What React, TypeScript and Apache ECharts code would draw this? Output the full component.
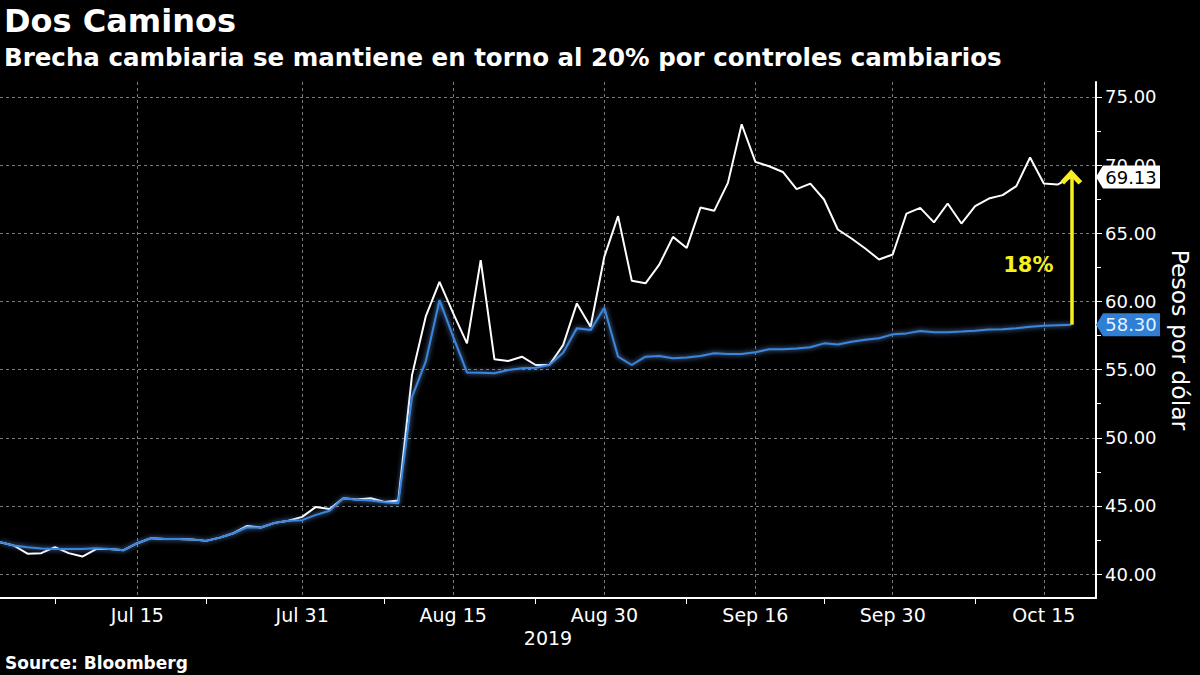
import React, { useEffect, useRef } from 'react';
import * as echarts from 'echarts';

// Business days (trading days) shown on the x axis
const dates = [
  '2019-07-01', '2019-07-02', '2019-07-03', '2019-07-04', '2019-07-05', '2019-07-08', '2019-07-09', '2019-07-10',
  '2019-07-11', '2019-07-12', '2019-07-15', '2019-07-16', '2019-07-17', '2019-07-18', '2019-07-19', '2019-07-22',
  '2019-07-23', '2019-07-24', '2019-07-25', '2019-07-26', '2019-07-29', '2019-07-30', '2019-07-31',
  '2019-08-01', '2019-08-02', '2019-08-05', '2019-08-06', '2019-08-07', '2019-08-08', '2019-08-09', '2019-08-12',
  '2019-08-13', '2019-08-14', '2019-08-15', '2019-08-16', '2019-08-19', '2019-08-20', '2019-08-21', '2019-08-22',
  '2019-08-23', '2019-08-26', '2019-08-27', '2019-08-28', '2019-08-29', '2019-08-30',
  '2019-09-02', '2019-09-03', '2019-09-04', '2019-09-05', '2019-09-06', '2019-09-09', '2019-09-10', '2019-09-11',
  '2019-09-12', '2019-09-13', '2019-09-16', '2019-09-17', '2019-09-18', '2019-09-19', '2019-09-20', '2019-09-23',
  '2019-09-24', '2019-09-25', '2019-09-26', '2019-09-27', '2019-09-30',
  '2019-10-01', '2019-10-02', '2019-10-03', '2019-10-04', '2019-10-07', '2019-10-08', '2019-10-09', '2019-10-10',
  '2019-10-11', '2019-10-14', '2019-10-15', '2019-10-16', '2019-10-17',
];

// White line: implied (parallel) rate
const parallelRate = [
  42.35, 42.1, 41.5, 41.54, 41.98, 41.54, 41.29, 41.84, 41.84, 41.76,
  42.27, 42.64, 42.58, 42.57, 42.55, 42.44, 42.68, 43.0, 43.54, 43.42,
  43.76, 43.92, 44.2, 44.93, 44.78, 45.57, 45.48, 45.57, 45.3, 45.4,
  54.6, 58.9, 61.44, 59.13, 56.93, 63.03, 55.76, 55.63, 55.95, 55.34,
  55.34, 56.8, 59.86, 58.15, 63.28, 66.26, 61.52, 61.33, 62.7, 64.74,
  63.93, 66.89, 66.65, 68.7, 73.0, 70.24, 69.92, 69.5, 68.24, 68.65,
  67.48, 65.28, 64.62, 63.89, 63.08, 63.45, 66.45, 66.87, 65.8, 67.19,
  65.72, 66.99, 67.55, 67.8, 68.46, 70.56, 68.65, 68.58, 69.13,
];

// Blue line: official rate
const officialRate = [
  42.35, 42.1, 41.98, 41.88, 41.85, 41.84, 41.84, 41.9, 41.84, 41.76,
  42.27, 42.64, 42.58, 42.57, 42.55, 42.44, 42.68, 43.0, 43.44, 43.42,
  43.76, 43.92, 43.96, 44.35, 44.65, 45.57, 45.45, 45.4, 45.28, 45.2,
  53.0, 55.6, 60.1, 57.4, 54.8, 54.78, 54.73, 54.97, 55.1, 55.14,
  55.34, 56.24, 58.03, 57.9, 59.54, 55.95, 55.34, 55.95, 56.0, 55.83,
  55.9, 56.0, 56.2, 56.15, 56.15, 56.27, 56.49, 56.5, 56.56, 56.64,
  56.93, 56.85, 57.05, 57.2, 57.3, 57.59, 57.66, 57.83, 57.75, 57.75,
  57.8, 57.86, 57.95, 57.97, 58.03, 58.15, 58.22, 58.26, 58.3,
];

const labelDates = ['2019-07-15', '2019-07-31', '2019-08-15', '2019-08-30', '2019-09-16', '2019-09-30', '2019-10-15'];
const tickDates = ['2019-07-05', '2019-07-22', '2019-08-08', '2019-08-23', '2019-09-09', '2019-09-23', '2019-10-08'];
const yTickValues = [40, 45, 50, 55, 60, 65, 70, 75];
const yMinorTickValues = [42.5, 47.5, 52.5, 57.5, 62.5, 67.5, 72.5];
const gapText = '18%';

const MONTHS = ['Jan', 'Feb', 'Mar', 'Apr', 'May', 'Jun', 'Jul', 'Aug', 'Sep', 'Oct', 'Nov', 'Dec'];
const fmtDate = (d: string) => {
  if (!d) return '';
  const [, m, day] = d.split('-');
  return `${MONTHS[parseInt(m, 10) - 1]} ${parseInt(day, 10)}`;
};

const FONT = 'DejaVu Sans';
const YELLOW = '#f7ef1e';
const BLUE = '#3a86dc';
const GRID_COLOR = '#7a7a7a';

export default function App() {
  const ref = useRef<HTMLDivElement>(null);

  useEffect(() => {
    document.body.style.margin = '0';
    document.body.style.background = '#000';
    if (!ref.current) return;
    const chart = echarts.init(ref.current, undefined, { renderer: 'svg' });

    const lastIdx = dates.length - 1;
    const xMax = lastIdx + 1.8;
    const yMin = 38.25;
    const yMax = 76.1;
    const labelIdx = labelDates.map((d) => dates.indexOf(d));
    const tickIdx = tickDates.map((d) => dates.indexOf(d));
    const lastPar = parallelRate[lastIdx];
    const lastOff = officialRate[lastIdx];
    const gapLabelValue = 62.7;

    const tagPath = 'path://M0,11.5 L7,0 L64,0 L64,23 L7,23 Z';
    const chevron = 'path://M10,0 L20,11 L16.5,14 L10,7 L3.5,14 L0,11 Z';

    const option: any = {
      backgroundColor: '#000',
      animation: false,
      textStyle: { fontFamily: FONT },
      title: [
        {
          text: 'Dos Caminos', left: 4, top: 5, padding: 0,
          textStyle: { color: '#fff', fontSize: 32, fontWeight: 'bold', fontFamily: FONT },
        },
        {
          text: 'Brecha cambiaria se mantiene en torno al 20% por controles cambiarios', left: 4, top: 45, padding: 0,
          textStyle: { color: '#fff', fontSize: 24.5, fontWeight: 'bold', fontFamily: FONT },
        },
        {
          text: 'Source: Bloomberg', left: 5, top: 654, padding: 0,
          textStyle: { color: '#fff', fontSize: 17, fontWeight: 'bold', fontFamily: FONT },
        },
      ],
      grid: { left: 0, right: 99, top: 82, bottom: 77 },
      xAxis: [
        {
          type: 'value', position: 'bottom', min: 0, max: xMax,
          name: '2019', nameLocation: 'middle', nameGap: 30,
          nameTextStyle: { color: '#fff', fontSize: 19, fontFamily: FONT },
          axisLine: { show: true, onZero: false, lineStyle: { color: '#fff', width: 2 } },
          axisTick: { show: false, customValues: labelIdx },
          axisLabel: {
            customValues: labelIdx,
            formatter: (v: number) => fmtDate(dates[Math.round(v)]),
            color: '#fff', fontSize: 19, margin: 7, fontFamily: FONT,
          },
          splitLine: { show: true, lineStyle: { color: GRID_COLOR, width: 1, type: [3, 3] } },
        },
        {
          type: 'value', position: 'bottom', min: 0, max: xMax,
          axisLine: { show: false, onZero: false },
          axisTick: { show: true, customValues: tickIdx, length: 6, lineStyle: { color: '#fff', width: 1 } },
          axisLabel: { show: false },
          splitLine: { show: false },
        },
      ],
      yAxis: [
        {
          type: 'value', position: 'right', min: yMin, max: yMax,
          name: 'Pesos por dólar', nameLocation: 'middle', nameRotate: -90, nameGap: 72,
          nameTextStyle: { color: '#fff', fontSize: 23.5, fontFamily: FONT },
          axisLine: { show: true, onZero: false, lineStyle: { color: '#fff', width: 2 } },
          axisTick: { show: true, customValues: yTickValues, length: 6, lineStyle: { color: '#fff', width: 1 } },
          axisLabel: {
            customValues: yTickValues,
            formatter: (v: number) => v.toFixed(2),
            color: '#fff', fontSize: 18, margin: 9, fontFamily: FONT,
          },
          splitLine: { show: true, lineStyle: { color: GRID_COLOR, width: 1, type: [3, 3] } },
        },
        {
          type: 'value', position: 'right', min: yMin, max: yMax,
          axisLine: { show: false, onZero: false },
          axisTick: { show: true, customValues: yMinorTickValues, length: 5, lineStyle: { color: '#fff', width: 1 } },
          axisLabel: { show: false },
          splitLine: { show: false },
        },
      ],
      series: [
        {
          name: 'Paralelo', type: 'line', xAxisIndex: 0, yAxisIndex: 0,
          data: dates.map((_, i) => [i, parallelRate[i]]),
          symbol: 'none', lineStyle: { color: '#ffffff', width: 2 }, z: 3,
          markPoint: {
            silent: true,
            data: [
              {
                coord: [xMax, lastPar], value: lastPar, symbol: tagPath, symbolSize: [64, 23], symbolOffset: [32, 0],
                itemStyle: { color: '#ffffff' },
                label: {
                  show: true, position: 'inside', offset: [3, 0], color: '#000', fontSize: 18, fontFamily: FONT,
                  formatter: () => lastPar.toFixed(2),
                },
              },
              {
                coord: [lastIdx, gapLabelValue], symbol: 'circle', symbolSize: 0,
                label: {
                  show: true, position: 'inside', offset: [-43, 0], color: YELLOW, fontSize: 21, fontWeight: 'bold',
                  fontFamily: FONT, formatter: () => gapText,
                },
              },
            ],
          },
        },
        {
          name: 'Oficial', type: 'line', xAxisIndex: 0, yAxisIndex: 0,
          data: dates.map((_, i) => [i, officialRate[i]]),
          symbol: 'none', z: 4,
          lineStyle: { color: BLUE, width: 2, shadowBlur: 5, shadowColor: 'rgba(110,170,255,0.9)' },
          markLine: {
            silent: true,
            symbol: ['none', chevron], symbolSize: [22, 15],
            lineStyle: { color: YELLOW, width: 3.5, type: 'solid', shadowBlur: 0 },
            label: { show: false },
            data: [[{ coord: [lastIdx, lastOff] }, { coord: [lastIdx, lastPar] }]],
          },
          markPoint: {
            silent: true,
            data: [
              {
                coord: [xMax, lastOff], value: lastOff, symbol: tagPath, symbolSize: [64, 23], symbolOffset: [32, 0],
                itemStyle: { color: '#2f7fd6' },
                label: {
                  show: true, position: 'inside', offset: [3, 0], color: '#e4f2ff', fontSize: 18, fontFamily: FONT,
                  formatter: () => lastOff.toFixed(2),
                },
              },
            ],
          },
        },
      ],
    };

    chart.setOption(option);
    return () => chart.dispose();
  }, []);

  return (
    <div
      ref={ref}
      style={{ position: 'fixed', left: 0, top: 0, width: 1200, height: 675, background: '#000' }}
    />
  );
}
